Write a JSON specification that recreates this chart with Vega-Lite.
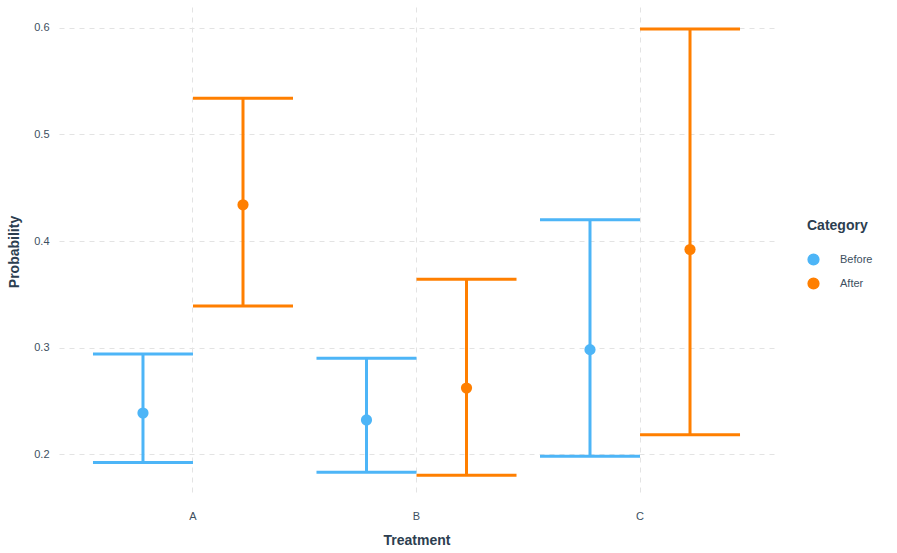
{
  "$schema": "https://vega.github.io/schema/vega-lite/v6.json",
  "width": 715,
  "height": 489,
  "autosize": {"type": "none"},
  "padding": {"left": 59, "top": 7, "right": 123, "bottom": 57},
  "background": "white",
  "config": {
    "view": {"stroke": null},
    "font": "Liberation Sans",
    "axis": {
      "domain": false,
      "ticks": false,
      "gridColor": "#e3e3e3",
      "gridDash": [5, 5],
      "gridWidth": 1,
      "labelColor": "#3d4f60",
      "labelFontSize": 11,
      "titleColor": "#2c3e50",
      "titleFontSize": 14,
      "titleFontWeight": "bold"
    }
  },
  "data": {
    "values": [
      {"Treatment": "A", "Category": "Before", "p": 0.2385, "lo": 0.192, "hi": 0.294},
      {"Treatment": "A", "Category": "After", "p": 0.434, "lo": 0.339, "hi": 0.534},
      {"Treatment": "B", "Category": "Before", "p": 0.232, "lo": 0.183, "hi": 0.29},
      {"Treatment": "B", "Category": "After", "p": 0.262, "lo": 0.18, "hi": 0.364},
      {"Treatment": "C", "Category": "Before", "p": 0.298, "lo": 0.198, "hi": 0.42},
      {"Treatment": "C", "Category": "After", "p": 0.392, "lo": 0.218, "hi": 0.599}
    ]
  },
  "encoding": {
    "x": {
      "field": "Treatment",
      "type": "nominal",
      "scale": {"paddingInner": 0.105, "paddingOuter": 0.152},
      "axis": {"labelAngle": 0, "labelPadding": 14, "title": "Treatment", "titlePadding": 12, "grid": true, "bandPosition": 0.5}
    },
    "xOffset": {"field": "Category", "type": "nominal", "sort": ["Before", "After"], "scale": {"paddingInner": 0, "paddingOuter": 0}},
    "color": {
      "field": "Category",
      "type": "nominal",
      "sort": ["Before", "After"],
      "scale": {"domain": ["Before", "After"], "range": ["#4db5f7", "#ff7f00"]},
      "legend": {
        "orient": "none",
        "legendX": 748,
        "legendY": 212,
        "title": "Category",
        "titleColor": "#2c3e50",
        "titleFontSize": 14,
        "titleFontWeight": "bold",
        "titlePadding": 20,
        "labelColor": "#3d4f60",
        "labelFontSize": 11,
        "labelOffset": 20,
        "symbolType": "circle",
        "symbolSize": 115,
        "symbolOpacity": 1,
        "rowPadding": 7
      }
    }
  },
  "layer": [
    {
      "mark": {"type": "rule", "strokeWidth": 3, "opacity": 1},
      "encoding": {
        "y": {"field": "lo", "type": "quantitative", "scale": {"domain": [0.1606, 0.6197], "nice": false, "zero": false},
              "axis": {"values": [0.2, 0.3, 0.4, 0.5, 0.6], "format": ".1f", "title": "Probability", "labelPadding": 10, "titlePadding": 12}},
        "y2": {"field": "hi"}
      }
    },
    {
      "mark": {"type": "tick", "thickness": 3, "size": 100, "orient": "horizontal", "opacity": 1},
      "encoding": {"y": {"field": "lo", "type": "quantitative"}}
    },
    {
      "mark": {"type": "tick", "thickness": 3, "size": 100, "orient": "horizontal", "opacity": 1},
      "encoding": {"y": {"field": "hi", "type": "quantitative"}}
    },
    {
      "mark": {"type": "point", "filled": true, "shape": "circle", "size": 125, "opacity": 1},
      "encoding": {"y": {"field": "p", "type": "quantitative"}}
    }
  ]
}
